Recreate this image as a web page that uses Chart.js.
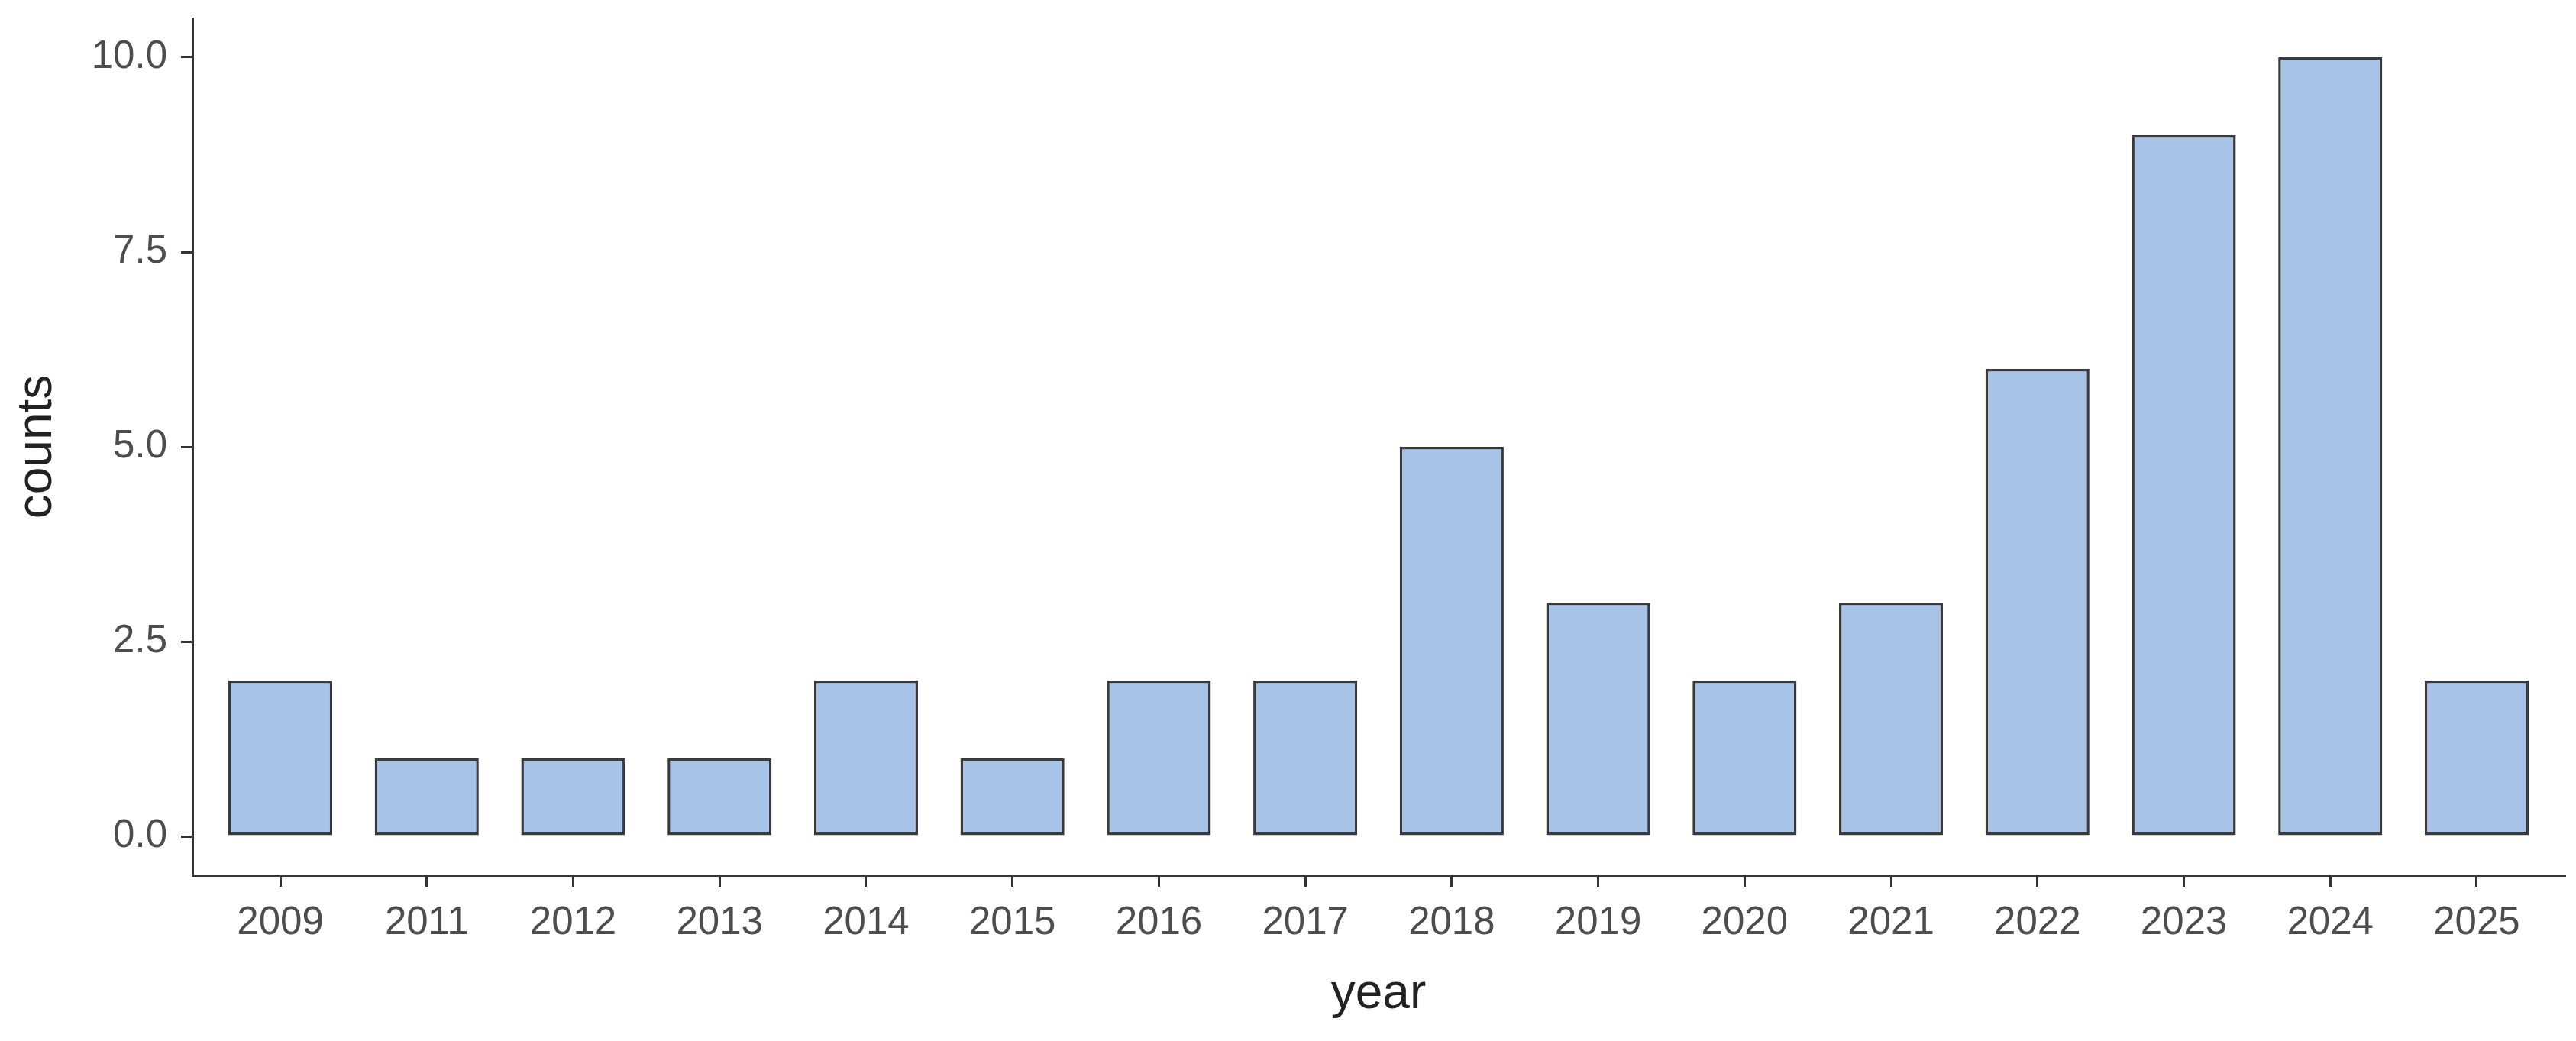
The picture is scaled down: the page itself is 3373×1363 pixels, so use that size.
<!DOCTYPE html>
<html>
<head>
<meta charset="utf-8">
<script src="https://cdn.jsdelivr.net/npm/chart.js@4/dist/chart.umd.min.js"></script>
<style>
  html, body { margin: 0; padding: 0; background: #ffffff; }
  #wrap { width: 3373px; height: 1363px; position: relative; }
</style>
</head>
<body>
<div id="wrap"><canvas id="c"></canvas></div>
<script>
const years = ['2009','2011','2012','2013','2014','2015','2016','2017','2018','2019','2020','2021','2022','2023','2024','2025'];
const counts = [2, 1, 1, 1, 2, 1, 2, 2, 5, 3, 2, 3, 6, 9, 10, 2];
const yTicks = [0, 2.5, 5, 7.5, 10];
const xTitle = 'year';
const yTitle = 'counts';

const points = years.map((y, i) => ({ x: i, y: counts[i] }));
const FONT = '"Liberation Sans", Arial, Helvetica, sans-serif';
const AXIS = '#333333';

new Chart(document.getElementById('c'), {
  type: 'bar',
  data: {
    datasets: [{
      data: points,
      backgroundColor: '#A7C3E7',
      borderColor: '#3a3a3a',
      borderWidth: 3.5,
      borderSkipped: false,
      categoryPercentage: 0.71,
      barPercentage: 1.0
    }]
  },
  options: {
    responsive: true,
    maintainAspectRatio: false,
    animation: false,
    devicePixelRatio: 1,
    layout: { padding: { left: 0, right: 15, top: 24, bottom: 0 } },
    plugins: { legend: { display: false }, tooltip: { enabled: false } },
    scales: {
      x: {
        type: 'linear',
        min: -0.6,
        max: 15.6,
        offset: false,
        afterFit: (s) => { s.height = 217; s.paddingLeft = 0; s.paddingRight = 0; },
        afterBuildTicks: (s) => { s.ticks = years.map((_, i) => ({ value: i })); },
        grid: { display: true, offset: false, drawOnChartArea: false, drawTicks: true, tickLength: 15, tickWidth: 3, color: AXIS, lineWidth: 3 },
        border: { display: true, color: AXIS, width: 3 },
        ticks: {
          autoSkip: false, maxRotation: 0, minRotation: 0, padding: 17,
          color: '#4d4d4d', font: { family: FONT, size: 51 },
          callback: (v) => years[v]
        },
        title: { display: true, text: xTitle, color: '#222222', font: { family: FONT, size: 64 }, padding: { top: 0, bottom: 22 } }
      },
      y: {
        type: 'linear',
        min: -0.5,
        max: 10.5,
        afterFit: (s) => { s.width = 252; s.paddingTop = 0; s.paddingBottom = 0; },
        afterBuildTicks: (s) => { s.ticks = yTicks.map(v => ({ value: v })); },
        grid: { display: true, drawOnChartArea: false, drawTicks: true, tickLength: 15, tickWidth: 3, color: AXIS, lineWidth: 3 },
        border: { display: true, color: AXIS, width: 3 },
        ticks: {
          padding: 18, color: '#4d4d4d', font: { family: FONT, size: 51 },
          callback: (v) => Number(v).toFixed(1)
        },
        title: { display: true, text: yTitle, color: '#222222', font: { family: FONT, size: 64 }, padding: { top: 11, bottom: 0 } }
      }
    }
  }
});
</script>
</body>
</html>
